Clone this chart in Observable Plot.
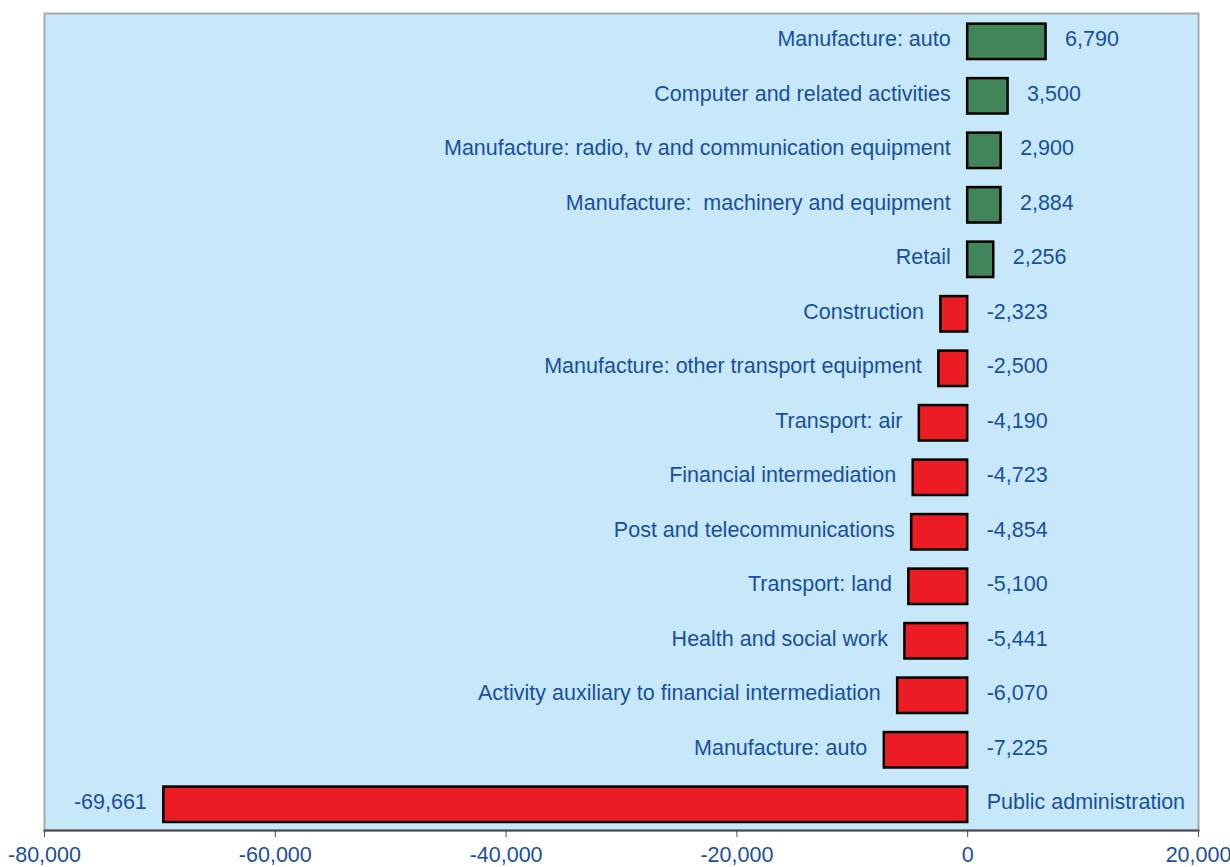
<!DOCTYPE html>
<html>
<head>
<meta charset="utf-8">
<script src="https://cdn.jsdelivr.net/npm/d3@7"></script>
<script src="https://cdn.jsdelivr.net/npm/@observablehq/plot@0.6"></script>
<style>
  html, body { margin: 0; padding: 0; background: #ffffff; }
  svg text { white-space: pre; }
</style>
</head>
<body>
<div id="chart"></div>
<script>
const categories = [
  "Manufacture: auto",
  "Computer and related activities",
  "Manufacture: radio, tv and communication equipment",
  "Manufacture:  machinery and equipment",
  "Retail",
  "Construction",
  "Manufacture: other transport equipment",
  "Transport: air",
  "Financial intermediation",
  "Post and telecommunications",
  "Transport: land",
  "Health and social work",
  "Activity auxiliary to financial intermediation",
  "Manufacture: auto",
  "Public administration"
];
const values = [6790, 3500, 2900, 2884, 2256, -2323, -2500, -4190, -4723, -4854, -5100, -5441, -6070, -7225, -69661];
const xTicks = [-80000, -60000, -40000, -20000, 0, 20000];

const fmt = v => v.toLocaleString("en-US");
const rows = categories.map((c, i) => ({i, category: c, value: values[i], swap: values[i] < -40000}));

const rightTexts = [];
const leftTexts = [];
for (const d of rows) {
  if (d.swap) {
    rightTexts.push({i: d.i, x: 0, text: d.category});
    leftTexts.push({i: d.i, x: d.value, text: fmt(d.value)});
  } else {
    rightTexts.push({i: d.i, x: Math.max(0, d.value), text: fmt(d.value)});
    leftTexts.push({i: d.i, x: Math.min(0, d.value), text: d.category});
  }
}

const blue = "#1A4FA0";
const font = "'Liberation Sans', Arial, Helvetica, sans-serif";

const chart = Plot.plot({
  width: 1230,
  height: 867,
  marginLeft: 44,
  marginRight: 32,
  marginTop: 13,
  marginBottom: 37,
  style: {fontFamily: font, background: "#ffffff"},
  x: {domain: [-80000, 20000], ticks: xTicks, tickFormat: fmt},
  y: {domain: rows.map(d => d.i), paddingInner: 0.35, paddingOuter: 0.171, align: 0.57, round: false, axis: null},
  marks: [
    Plot.frame({fill: "#C6E8F8", stroke: "#A8A8A8", strokeWidth: 2}),
    Plot.frame({anchor: "bottom", stroke: "#4a4a4a", strokeWidth: 2}),
    Plot.axisX({ticks: xTicks, tickFormat: fmt, tickSize: 7, tickPadding: 9, fontSize: 21.5, stroke: "#4a4a4a", fill: blue, label: null}),
    Plot.barX(rows.filter(d => d.value >= 0), {x: "value", y: "i", fill: "#42855B", stroke: "#000", strokeWidth: 2.5}),
    Plot.barX(rows.filter(d => d.value < 0), {x: "value", y: "i", fill: "#EC1C24", stroke: "#000", strokeWidth: 2.5}),
    Plot.text(rightTexts, {x: "x", y: "i", text: "text", textAnchor: "start", dx: 19, dy: -2.5, fontSize: 21.5, fill: blue}),
    Plot.text(leftTexts, {x: "x", y: "i", text: "text", textAnchor: "end", dx: -17, dy: -2.5, fontSize: 21.5, fill: blue})
  ]
});
document.getElementById("chart").appendChild(chart);
</script>
</body>
</html>
